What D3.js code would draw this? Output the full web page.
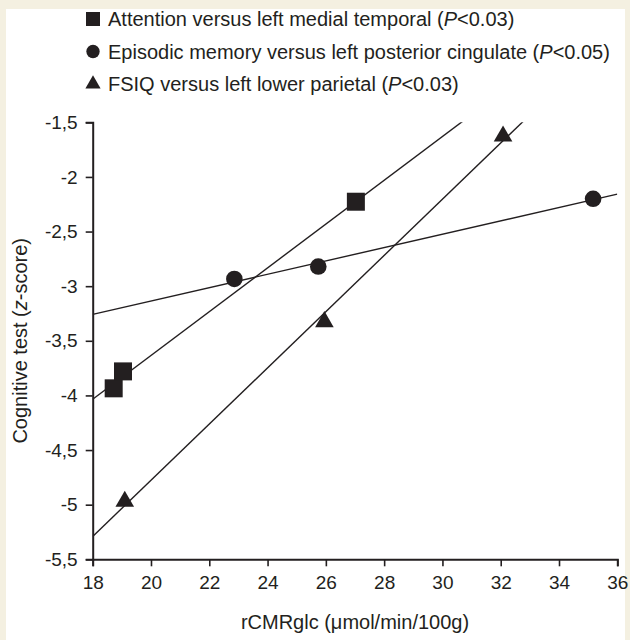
<!DOCTYPE html>
<html lang="en">
<script src='https://d3js.org/d3.v7.min.js'></script>
<style>
  body { margin: 0; background: #f4f0e1; }
  text { font-family: 'Liberation Sans', Arial, sans-serif; fill: #231f20; }
</style>
<body>
<svg width=630 height=640></svg>
<script>
    // values: rCMRglc (x) vs cognitive z-score (y)
    var attentionX = [18.72, 19.04, 27.03];
    var attentionY = [-3.935, -3.78, -2.227];
    var memoryX = [22.86, 25.74, 35.17];
    var memoryY = [-2.934, -2.82, -2.20];
    var fsiqX = [19.1, 25.95, 32.08];
    var fsiqY = [-4.97, -3.326, -1.627];

    var seriesNames = [
        ["Attention versus left medial temporal (", "P", "<0.03)"],
        ["Episodic memory versus left posterior cingulate (", "P", "<0.05)"],
        ["FSIQ versus left lower parietal (", "P", "<0.03)"]
    ];
    var xTicks = [18, 20, 22, 24, 26, 28, 30, 32, 34, 36];
    var yTicks = [-1.5, -2, -2.5, -3, -3.5, -4, -4.5, -5, -5.5];

    var ink = "#231f20";
    var svg = d3.select("svg");

    // white panel inside the cream frame
    svg.append("rect").attr("x", 6).attr("y", 9).attr("width", 619).attr("height", 631).attr("fill", "#fff");

    var x = d3.scaleLinear().domain([18, 36]).range([92.7, 617.3]);
    var y = d3.scaleLinear().domain([-5.5, -1.5]).range([559.3, 122.3]);

    var loc = d3.formatLocale({decimal: ",", thousands: ".", grouping: [3], currency: ["", ""], minus: "-"});
    var fmt = loc.format("~g");

    var series = [
        {xs: attentionX, ys: attentionY, sym: d3.symbolSquare, size: 324},
        {xs: memoryX, ys: memoryY, sym: d3.symbolCircle, size: Math.PI * 8.3 * 8.3},
        {xs: fsiqX, ys: fsiqY, sym: d3.symbolTriangle, size: 150}
    ];

    // least squares fit for each series
    function fit(xs, ys) {
        var mx = d3.mean(xs), my = d3.mean(ys);
        var sxy = d3.sum(xs, function (v, i) { return (v - mx) * (ys[i] - my); });
        var sxx = d3.sum(xs, function (v) { return (v - mx) * (v - mx); });
        var b = sxy / sxx;
        return function (v) { return my + b * (v - mx); };
    }

    svg.append("clipPath").attr("id", "plot")
        .append("rect")
        .attr("x", x(18)).attr("y", y(-1.5))
        .attr("width", x(36) - x(18)).attr("height", y(-5.5) - y(-1.5));

    var lines = svg.append("g").attr("clip-path", "url(#plot)");
    series.forEach(function (s) {
        var f = fit(s.xs, s.ys);
        lines.append("line")
            .attr("x1", x(18)).attr("y1", y(f(18)))
            .attr("x2", x(36)).attr("y2", y(f(36)))
            .attr("stroke", ink).attr("stroke-width", 1.4);
    });

    // axes
    var gx = svg.append("g")
        .attr("transform", "translate(0," + y(-5.5) + ")")
        .call(d3.axisBottom(x).tickValues(xTicks).tickSizeOuter(0).tickSize(7).tickPadding(9).tickFormat(fmt));
    var gy = svg.append("g")
        .attr("transform", "translate(" + x(18) + ",0)")
        .call(d3.axisLeft(y).tickValues(yTicks).tickSizeOuter(0).tickSize(7).tickPadding(8).tickFormat(fmt));
    [gx, gy].forEach(function (g) {
        g.select(".domain").attr("stroke", ink).attr("stroke-width", 2);
        g.selectAll(".tick line").attr("stroke", ink).attr("stroke-width", 1.6);
        g.selectAll(".tick text").attr("fill", ink).style("font-size", "19px")
            .style("font-family", "'Liberation Sans', Arial, sans-serif");
    });

    // points
    series.forEach(function (s) {
        svg.append("g").selectAll("path")
            .data(s.xs)
            .enter()
            .append("path")
            .attr("d", d3.symbol().type(s.sym).size(s.size))
            .attr("transform", function (d, i) { return "translate(" + x(d) + "," + y(s.ys[i]) + ")"; })
            .attr("fill", ink);
    });

    // axis titles
    svg.append("text")
        .attr("x", (x(18) + x(36)) / 2).attr("y", 629)
        .attr("text-anchor", "middle").style("font-size", "20px")
        .text("rCMRglc (μmol/min/100g)");
    var yt = svg.append("text")
        .attr("transform", "translate(20," + ((y(-1.5) + y(-5.5)) / 2) + ") rotate(-90)")
        .attr("dy", "0.35em")
        .attr("text-anchor", "middle").style("font-size", "20px");
    yt.append("tspan").text("Cognitive test  (");
    yt.append("tspan").style("font-style", "italic").text("z");
    yt.append("tspan").text("-score)");

    // legend
    var legendSyms = [
        {sym: d3.symbolSquare, size: 196},
        {sym: d3.symbolCircle, size: 140},
        {sym: d3.symbolTriangle, size: 100}
    ];
    var lg = svg.append("g").selectAll("g")
        .data(seriesNames)
        .enter()
        .append("g")
        .attr("transform", function (d, i) { return "translate(93," + (19 + i * 32.5) + ")"; });
    lg.append("path")
        .attr("d", function (d, i) { return d3.symbol().type(legendSyms[i].sym).size(legendSyms[i].size)(); })
        .attr("fill", ink);
    var lt = lg.append("text").attr("x", 15).attr("dy", "0.36em").style("font-size", "20px");
    lt.append("tspan").text(function (d) { return d[0]; });
    lt.append("tspan").style("font-style", "italic").text(function (d) { return d[1]; });
    lt.append("tspan").text(function (d) { return d[2]; });
</script>
</body>
</html>
